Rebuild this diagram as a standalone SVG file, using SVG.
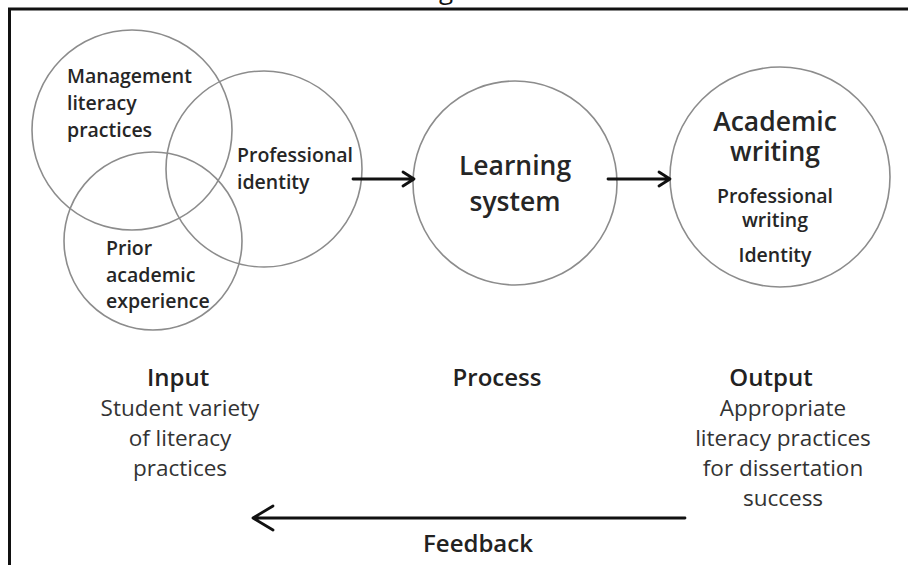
<svg xmlns="http://www.w3.org/2000/svg" width="908" height="565" viewBox="0 0 908 565">
<style>
.c{fill:none;stroke:#8c8c8c;stroke-width:1.6}
.lab{font-family:"Open Sans","Liberation Sans",sans-serif;font-weight:600;fill:#262626}
.s{font-size:19.5px}
.b{font-size:26.5px}
.h{font-family:"Open Sans","Liberation Sans",sans-serif;font-weight:600;font-size:24px;fill:#222;text-anchor:middle}
.r{font-family:"Open Sans","Liberation Sans",sans-serif;font-size:22.5px;fill:#333;text-anchor:middle}
.a{fill:none;stroke:#111;stroke-width:2.8;stroke-linecap:round;stroke-linejoin:round}
.mid{text-anchor:middle}
</style>
<rect width="908" height="565" fill="#fff"/>
<text x="446" y="-1" font-family="Open Sans, sans-serif" font-size="26" fill="#111" text-anchor="middle">g</text>
<path d="M9.5 565 V9 H908" fill="none" stroke="#111" stroke-width="3"/>
<g id="management">
<circle class="c" cx="132" cy="130" r="100"/>
<text class="lab s" x="67"><tspan x="67" y="83">Management</tspan><tspan x="67" y="110">literacy</tspan><tspan x="67" y="137">practices</tspan></text>
</g>
<g id="professional-identity">
<circle class="c" cx="264" cy="169" r="98"/>
<text class="lab s" x="237"><tspan x="237" y="162">Professional</tspan><tspan x="237" y="189">identity</tspan></text>
</g>
<g id="prior-academic">
<circle class="c" cx="153" cy="241" r="89"/>
<text class="lab s" x="106"><tspan x="106" y="255">Prior</tspan><tspan x="106" y="282">academic</tspan><tspan x="106" y="308">experience</tspan></text>
</g>
<g id="learning-system">
<circle class="c" cx="515" cy="183" r="102"/>
<text class="lab b mid"><tspan x="515" y="175">Learning</tspan><tspan x="515" y="211">system</tspan></text>
</g>
<g id="academic-writing">
<circle class="c" cx="780" cy="177" r="110"/>
<text class="lab b mid"><tspan x="775" y="131">Academic</tspan><tspan x="775" y="161">writing</tspan></text>
<text class="lab s mid"><tspan x="775" y="203">Professional</tspan><tspan x="775" y="227">writing</tspan><tspan x="775" y="262">Identity</tspan></text>
</g>
<g id="input">
<text class="h" x="178" y="386">Input</text>
<text class="r"><tspan x="180" y="416">Student variety</tspan><tspan x="180" y="446">of literacy</tspan><tspan x="180" y="476">practices</tspan></text>
</g>
<g id="process">
<text class="h" x="497" y="386">Process</text>
</g>
<g id="output">
<text class="h" x="771" y="386">Output</text>
<text class="r"><tspan x="783" y="416">Appropriate</tspan><tspan x="783" y="446">literacy practices</tspan><tspan x="783" y="476">for dissertation</tspan><tspan x="783" y="506">success</tspan></text>
</g>
<g id="connectors">
<path class="a" d="M353 179 H414 M403 172 L414 179 L403 186"/>
<path class="a" d="M608 179 H670 M659 172 L670 179 L659 186"/>
<path class="a" d="M685 518 H253 M273 506 L253 518 L273 530" stroke-width="4.5"/>
<text class="h" x="478" y="552">Feedback</text>
</g>
</svg>
